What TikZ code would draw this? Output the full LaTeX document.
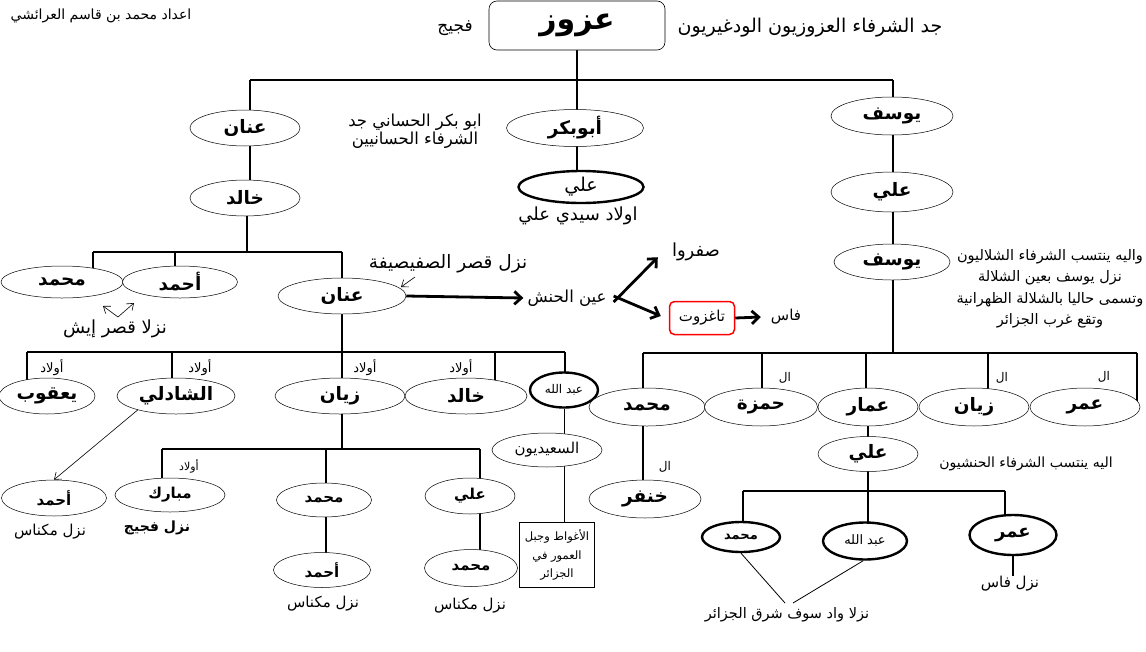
\documentclass[tikz,border=0pt]{standalone}
\usepackage{fontspec}
\newfontfamily\arabicfont[Script=Arabic]{DejaVu Sans}
\TeXXeTstate=1
\usetikzlibrary{shapes.geometric,arrows.meta,backgrounds}
\newcommand{\AR}[1]{\beginR #1\endR}
\newcommand{\myB}[1]{\arabicfont\bfseries\fontsize{#1}{#1}\selectfont}
\newcommand{\myR}[2]{\arabicfont\fontsize{#1}{#2}\selectfont}
\tikzset{
  nm/.style={ellipse, draw, line width=0.5pt, fill=white, inner sep=0pt, font={\myB{18.5}}},
  nmthick/.style={nm, line width=2.4pt},
  txt/.style={inner sep=0pt, font={\myR{14}{16}}},
  conn/.style={line width=2.8pt},
  med/.style={line width=2pt},
  thinl/.style={line width=0.8pt},
  barb/.style={-{Straight Barb[length=7pt,width=13pt]}},
  smallarr/.style={line width=0.6pt, -{Straight Barb[length=6pt,width=9pt]}},
}
\begin{document}
\begin{tikzpicture}[x=1pt,y=-1pt]
\useasboundingbox (0,0) rectangle (1146,651);

% ---------- top ----------
\node[txt, font={\myR{14}{16}}] (author) at (101,16) {\AR{اعداد محمد بن قاسم العرائشي}};
\node[draw, rounded corners=8pt, line width=0.6pt, fill=white, minimum width=176pt, minimum height=49pt, inner sep=0pt, font={\myB{30}}] (azzouz) at (577,25.5) {\AR{عزوز}};
\node[txt, font={\myR{17}{19}}] (figuig) at (455,28) {\AR{فجيج}};
\node[txt, font={\myR{19}{21}}] (jad) at (810,28) {\AR{جد الشرفاء العزوزيون الودغيريون}};

\coordinate (b1L) at (250,80);
\coordinate (b1M) at (577,80);
\coordinate (b1R) at (893,80);

% ---------- level 1 ----------
\node[nm, minimum width=110pt, minimum height=36pt] (anan1) at (245,128) {\AR{عنان}};
\node[nm, minimum width=137pt, minimum height=37pt] (abubakr) at (575,128) {\AR{أبوبكر}};
\node[nm, minimum width=122pt, minimum height=38pt] (yusuf1) at (892,116) {\AR{يوسف}};
\node[txt, align=center, font={\myR{16.5}{18}}] (hasani) at (415,131) {\AR{ابو بكر الحساني جد}\\\AR{الشرفاء الحسانيين}};
\node[nmthick, font={\myR{19}{21}}, minimum width=125pt, minimum height=32pt] (ali1) at (581,187) {\AR{علي}};
\node[txt, font={\myR{18}{20}}] (awladsidi) at (578,216) {\AR{اولاد سيدي علي}};

\node[nm, minimum width=122pt, minimum height=40pt] (ali2) at (892,192) {\AR{علي}};
\node[nm, minimum width=116pt, minimum height=36pt] (yusuf2) at (892,262) {\AR{يوسف}};
\node[txt, align=center, font={\myR{14.5}{21.5}}] (shalal) at (1050,289) {\AR{واليه ينتسب الشرفاء الشلاليون}\\\AR{نزل يوسف بعين الشلالة}\\\AR{وتسمى حاليا بالشلالة الظهرانية}\\\AR{وتقع غرب الجزائر}};

% ---------- left branch ----------
\node[nm, minimum width=110pt, minimum height=36pt] (khalid1) at (245,198) {\AR{خالد}};
\coordinate (b2K) at (247,252);
\coordinate (b2a) at (93,252);
\coordinate (b2b) at (175,252);
\coordinate (b2c) at (342,252);
\node[nm, minimum width=122pt, minimum height=32pt] (moh1) at (62,282) {\AR{محمد}};
\node[nm, minimum width=115pt, minimum height=32pt] (ahm1) at (180,282) {\AR{أحمد}};
\node[nm, minimum width=128pt, minimum height=36pt] (anan2) at (342,296) {\AR{عنان}};
\node[txt, font={\myR{18}{20}}] (qasr) at (115,329) {\AR{نزلا قصر إيش}};
\coordinate (q0) at (118,317);
\coordinate (q1) at (103,306);
\coordinate (q2) at (134,303);
\draw[smallarr] (q0) -- (q1);
\draw[smallarr] (q0) -- (q2);

\node[txt, font={\myR{18.5}{20}}] (safisifa) at (448,264) {\AR{نزل  قصر الصفيصيفة}};
\coordinate (s0) at (415,277);
\coordinate (s1) at (401,287);
\draw[smallarr] (s0) -- (s1);
\node[txt, font={\myR{16.5}{18}}] (ain) at (567,298) {\AR{عين الحنش}};
\node[txt, font={\myR{18}{20}}] (safrou) at (696,252) {\AR{صفروا}};
\node[draw=red, rounded corners=5pt, line width=1.5pt, minimum width=65pt, minimum height=33pt, inner sep=0pt, font={\myR{15}{17}}] (tagh) at (702,318) {\AR{تاغزوت}};
\node[txt, font={\myR{15}{17}}] (fes1) at (786,317) {\AR{فاس}};
\draw[conn, barb] (anan2.east) -- ([xshift=-4pt]ain.west);
\draw[conn, barb] ([xshift=7pt,yshift=-4pt]ain.east) -- ([xshift=-14pt,yshift=4pt]safrou.south west);
\draw[conn, barb] ([xshift=7pt,yshift=2pt]ain.east) -- ([xshift=-8pt,yshift=2pt]tagh.west);
\draw[conn, barb] (tagh.east) -- ([xshift=-10pt]fes1.west);

% row under anan2
\coordinate (b3a) at (27,352);
\coordinate (b3b) at (172,352);
\coordinate (b3c) at (342,352);
\coordinate (b3d) at (495,352);
\coordinate (b3e) at (565,352);
\node[nm, minimum width=96pt, minimum height=36pt] (yaqub) at (47,396) {\AR{يعقوب}};
\node[nm, minimum width=118pt, minimum height=36pt] (shadli) at (176,396) {\AR{الشادلي}};
\node[nm, minimum width=130pt, minimum height=36pt] (zayan1) at (340,396) {\AR{زيان}};
\node[nm, minimum width=122pt, minimum height=36pt] (khalid2) at (466,396) {\AR{خالد}};
\node[nmthick, font={\myR{12}{14}}, minimum width=68pt, minimum height=35pt] (abd1) at (564,390) {\AR{عبد الله}};
\node[txt, font={\myR{13}{15}}] (aw1) at (52,368) {\AR{أولاد}};
\node[txt, font={\myR{13}{15}}] (aw2) at (200,368) {\AR{أولاد}};
\node[txt, font={\myR{13}{15}}] (aw3) at (365,368) {\AR{أولاد}};
\node[txt, font={\myR{13}{15}}] (aw4) at (461,368) {\AR{أولاد}};
\node[nm, font={\myR{15}{17}}, minimum width=110pt, minimum height=34pt] (saidi) at (547,450) {\AR{السعيديون}};
\node[draw, line width=0.6pt, fill=white, minimum width=75pt, minimum height=65pt, inner sep=0pt, align=center, font={\myR{11.5}{18.5}}] (aghwat) at (557,555) {\AR{الأغواط وجبل}\\\AR{العمور في}\\\AR{الجزائر}};

% under zayan1
\coordinate (b4a) at (162,449);
\coordinate (b4b) at (326,449);
\coordinate (b4m) at (342,449);
\coordinate (b4c) at (480,449);
\node[nm, font={\myB{15}}, minimum width=105pt, minimum height=36pt] (ahm2) at (54,498) {\AR{أحمد}};
\node[txt, font={\myR{15}{17}}] (mek1) at (50,532) {\AR{نزل مكناس}};
\node[nm, font={\myB{15}}, minimum width=110pt, minimum height=34pt] (mubarak) at (170,495) {\AR{مبارك}};
\node[txt, font={\myB{14}}] (figuig2) at (157,528) {\AR{نزل فجيج}};
\node[txt, font={\myR{11}{13}}] (aw5) at (189,466) {\AR{أولاد}};
\node[nm, font={\myB{15}}, minimum width=95pt, minimum height=34pt] (moh2) at (324,500) {\AR{محمد}};
\node[nm, font={\myB{15}}, minimum width=90pt, minimum height=36pt] (ali3) at (470,496) {\AR{علي}};
\node[nm, font={\myB{15}}, minimum width=97pt, minimum height=35pt] (ahm3) at (322,570) {\AR{أحمد}};
\node[txt, font={\myR{15}{17}}] (mek2) at (323,604) {\AR{نزل مكناس}};
\node[nm, font={\myB{15}}, minimum width=93pt, minimum height=37pt] (moh3) at (471,568) {\AR{محمد}};
\node[txt, font={\myR{15}{17}}] (mek3) at (470,606) {\AR{نزل مكناس}};
\draw[smallarr] (shadli.200) -- (ahm2.north);

% ---------- right branch ----------
\coordinate (b5a) at (643,353);
\coordinate (b5b) at (762,353);
\coordinate (b5c) at (866,353);
\coordinate (b5Y) at (893,353);
\coordinate (b5d) at (988,353);
\coordinate (b5e) at (1137,353);
\node[nm, minimum width=116pt, minimum height=38pt] (moh4) at (647,407) {\AR{محمد}};
\node[nm, minimum width=113pt, minimum height=38pt] (hamza) at (761,407) {\AR{حمزة}};
\node[nm, minimum width=100pt, minimum height=38pt] (ammar) at (868,407) {\AR{عمار}};
\node[nm, minimum width=110pt, minimum height=38pt] (zayan2) at (974,407) {\AR{زيان}};
\node[nm, minimum width=110pt, minimum height=38pt] (omar1) at (1085,407) {\AR{عمر}};
\node[txt, font={\myR{12}{14}}] (al1) at (785,378) {\AR{ال}};
\node[txt, font={\myR{12}{14}}] (al2) at (1002,378) {\AR{ال}};
\node[txt, font={\myR{12}{14}}] (al3) at (1104,377) {\AR{ال}};
\node[txt, font={\myR{12}{14}}] (al4) at (665,467) {\AR{ال}};
\node[nm, minimum width=112pt, minimum height=38pt] (khanfar) at (645,499) {\AR{خنفر}};
\node[nm, minimum width=100pt, minimum height=35pt] (ali4) at (868,454) {\AR{علي}};
\node[txt, font={\myR{14}{16}}] (hanash) at (1026,464) {\AR{اليه ينتسب الشرفاء الحنشيون}};
\coordinate (b6a) at (743,491);
\coordinate (b6m) at (868,491);
\coordinate (b6c) at (1005,491);
\node[nmthick, font={\myB{13}}, minimum width=78pt, minimum height=30pt] (moh5) at (741,537) {\AR{محمد}};
\node[nmthick, font={\myR{13}{15}}, minimum width=84pt, minimum height=37pt] (abd2) at (865,541) {\AR{عبد الله}};
\node[nmthick, font={\myB{18}}, minimum width=87pt, minimum height=40pt] (omar2) at (1013,535) {\AR{عمر}};
\node[txt, font={\myR{15}{17}}] (fes2) at (1010,584) {\AR{نزل فاس}};
\node[txt, font={\myR{14.5}{17}}] (souf) at (787,615) {\AR{نزلا واد سوف شرق الجزائر}};
\coordinate (sj1) at (785,603);
\coordinate (sj2) at (793,603);

% ---------- connectors (behind nodes) ----------
\begin{pgfonlayer}{background}
\fill[white] (0,0) rectangle (1146,651);
\draw[conn] (azzouz.south) -- (b1M);
\draw[conn] (b1L) -- (b1R);
\draw[conn] (b1L) -- (b1L |- anan1.center);
\draw[conn] (b1M) -- (b1M |- abubakr.center);
\draw[conn] (b1R) -- (b1R |- yusuf1.center);
\draw[conn] (b1M |- abubakr.center) -- (b1M |- ali1.center);
\draw[conn] (b1L |- anan1.center) -- (b1L |- khalid1.center);
\draw[conn] (b2K |- khalid1.center) -- (b2K);
\draw[conn] (b2a) -- (b2c);
\draw[conn] (b2a) -- (b2a |- moh1.center);
\draw[conn] (b2b) -- (b2b |- ahm1.center);
\draw[conn] (b2c) -- (b2c |- anan2.center);
\draw[conn] (b3c |- anan2.center) -- (b3c);
\draw[conn] (b3a) -- (b3e);
\draw[conn] (b3a) -- (b3a |- yaqub.center);
\draw[conn] (b3b) -- (b3b |- shadli.center);
\draw[conn] (b3c) -- (b3c |- zayan1.center);
\draw[conn] (b3d) -- (b3d |- khalid2.center);
\draw[conn] (b3e) -- (b3e |- abd1.center);
\draw[thinl] (abd1.south) -- (abd1.south |- saidi.center);
\draw[thinl] (abd1.south |- saidi.center) -- (abd1.south |- aghwat.center);
\draw[conn] (b4m |- zayan1.center) -- (b4m);
\draw[med] (b4a) -- (b4c);
\draw[med] (b4a) -- (b4a |- mubarak.center);
\draw[med] (b4b) -- (b4b |- moh2.center);
\draw[med] (b4c) -- (b4c |- ali3.center);
\draw[med] (b4b |- moh2.center) -- (b4b |- ahm3.center);
\draw[med] (b4c |- ali3.center) -- (b4c |- moh3.center);
% right
\draw[conn] (b1R |- yusuf1.center) -- (b5Y);
\draw[conn] (b5a) -- (b5e);
\draw[conn] (b5a) -- (b5a |- moh4.center);
\draw[conn] (b5b) -- (b5b |- hamza.center);
\draw[conn] (b5c) -- (b5c |- ammar.center);
\draw[conn] (b5d) -- (b5d |- zayan2.center);
\draw[conn] (b5e) -- (b5e |- omar1.center);
\draw[conn] (b5a |- moh4.center) -- (b5a |- khanfar.center);
\draw[med] (ammar.center) -- (ali4.center);
\draw[med] (ali4.center) -- (b6m);
\draw[med] (b6a) -- (b6c);
\draw[med] (b6a) -- (b6a |- moh5.center);
\draw[med] (b6m) -- (b6m |- abd2.center);
\draw[med] (b6c) -- (b6c |- omar2.center);
\draw[med] (omar2.center) -- (omar2.center |- fes2.north);
\draw[thinl] (moh5.south) -- (sj1);
\draw[thinl] (abd2.265) -- (sj2);
\end{pgfonlayer}
\end{tikzpicture}
\end{document}
